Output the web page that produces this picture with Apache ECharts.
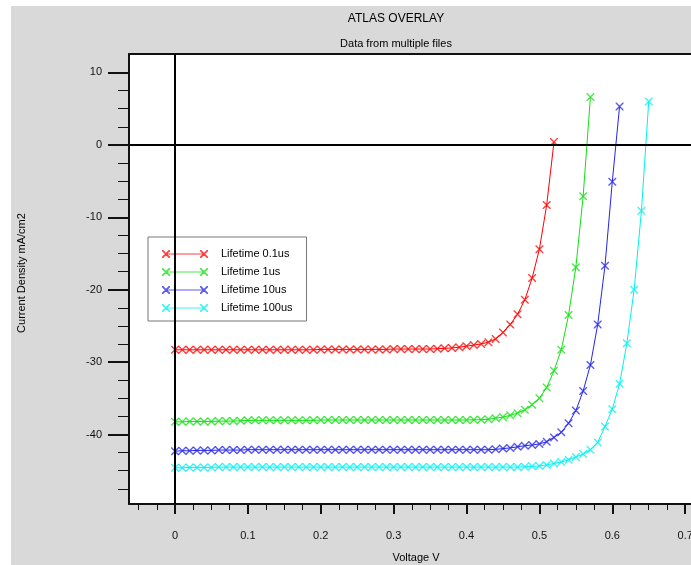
<!DOCTYPE html>
<html>
<head>
<meta charset="utf-8">
<script src="https://cdn.jsdelivr.net/npm/echarts@6/dist/echarts.min.js"></script>
<style>
html,body{margin:0;padding:0;background:#fff;}
#chart{width:691px;height:565px;}
</style>
</head>
<body>
<div id="chart"></div>
<script>
// ---- data ----
var seriesNames = ['Lifetime 0.1us', 'Lifetime 1us', 'Lifetime 10us', 'Lifetime 100us'];
var seriesColors = ['#ff0000', '#11e011', '#2424ea', '#00f0f0'];

var voltage = [0.00,0.01,0.02,0.03,0.04,0.05,0.06,0.07,0.08,0.09,
  0.10,0.11,0.12,0.13,0.14,0.15,0.16,0.17,0.18,0.19,
  0.20,0.21,0.22,0.23,0.24,0.25,0.26,0.27,0.28,0.29,
  0.30,0.31,0.32,0.33,0.34,0.35,0.36,0.37,0.38,0.39,
  0.40,0.41,0.42,0.43,0.44,0.45,0.46,0.47,0.48,0.49,
  0.50,0.51,0.52,0.53,0.54,0.55,0.56,0.57,0.58,0.59,
  0.60,0.61,0.62,0.63,0.64,0.65];

var current01us = [-28.3,-28.3,-28.3,-28.3,-28.3,-28.3,-28.3,-28.3,-28.3,-28.3,
  -28.3,-28.3,-28.3,-28.3,-28.3,-28.3,-28.3,-28.3,-28.3,-28.3,
  -28.25,-28.25,-28.25,-28.25,-28.25,-28.25,-28.25,-28.25,-28.25,-28.25,
  -28.2,-28.2,-28.2,-28.2,-28.2,-28.2,-28.15,-28.1,-28.05,-27.95,
  -27.8,-27.65,-27.5,-27.25,-26.8,-25.9,-24.8,-23.4,-21.4,-18.4,
  -14.4,-8.3,0.4];

var current1us = [-38.25,-38.25,-38.2,-38.2,-38.2,-38.2,-38.15,-38.15,-38.15,-38.1,
  -38.05,-38.05,-38.05,-38.05,-38.05,-38.05,-38.05,-38.05,-38.05,-38.05,
  -38.0,-38.0,-38.0,-38.0,-38.0,-38.0,-38.0,-38.0,-38.0,-38.0,
  -38.0,-38.0,-38.0,-38.0,-38.0,-38.0,-38.0,-38.0,-38.0,-38.0,
  -38.0,-37.97,-37.95,-37.9,-37.75,-37.6,-37.35,-37.05,-36.6,-35.9,
  -35.0,-33.5,-31.2,-28.3,-23.5,-16.9,-7.1,6.6];

var current10us = [-42.3,-42.25,-42.25,-42.2,-42.2,-42.2,-42.15,-42.15,-42.15,-42.15,
  -42.1,-42.1,-42.1,-42.1,-42.1,-42.1,-42.1,-42.1,-42.1,-42.1,
  -42.1,-42.1,-42.1,-42.1,-42.1,-42.1,-42.1,-42.1,-42.1,-42.1,
  -42.1,-42.1,-42.1,-42.1,-42.1,-42.1,-42.1,-42.1,-42.1,-42.1,
  -42.1,-42.1,-42.1,-42.1,-42.05,-41.95,-41.85,-41.7,-41.55,-41.45,
  -41.3,-41.0,-40.4,-39.7,-38.45,-36.7,-34.0,-30.4,-24.8,-16.7,
  -5.1,5.3];

var current100us = [-44.6,-44.6,-44.55,-44.55,-44.55,-44.55,-44.5,-44.5,-44.5,-44.5,
  -44.5,-44.5,-44.5,-44.5,-44.5,-44.5,-44.5,-44.5,-44.5,-44.5,
  -44.5,-44.5,-44.5,-44.5,-44.5,-44.5,-44.5,-44.5,-44.5,-44.5,
  -44.5,-44.5,-44.5,-44.5,-44.5,-44.5,-44.5,-44.5,-44.5,-44.5,
  -44.5,-44.5,-44.5,-44.5,-44.5,-44.5,-44.5,-44.5,-44.45,-44.4,
  -44.35,-44.2,-44.0,-43.8,-43.5,-43.1,-42.7,-42.1,-41.1,-38.9,
  -36.5,-33.0,-27.4,-20.0,-9.1,6.0];

var xLabelValues = [0,0.1,0.2,0.3,0.4,0.5,0.6,0.7];
var xMinorTicks = [-0.05,-0.025,0.025,0.05,0.075,0.125,0.15,0.175,0.225,0.25,0.275,0.325,0.35,0.375,0.425,0.45,0.475,0.525,0.55,0.575,0.625,0.65,0.675,0.7];
var yLabelValues = [10,0,-10,-20,-30,-40];
var yMinorTicks = [7.5,5,2.5,-2.5,-5,-7.5,-12.5,-15,-17.5,-22.5,-25,-27.5,-32.5,-35,-37.5,-42.5,-45,-47.5];

var titleText = 'ATLAS OVERLAY';
var subtitleText = 'Data from multiple files';
var xName = 'Voltage V';
var yName = 'Current Density mA/cm2';

// ---- chart ----
var X_MIN = -0.0631, X_MAX = 0.708;
var Y_MIN = -49.6, Y_MAX = 12.55;
var FONT = '"Liberation Sans", Arial, sans-serif';
var xSym = 'path://M0,0L1,0L8,7L8,8L7,8L0,1Z M8,0L8,1L1,8L0,8L0,7L7,0Z';
var legendIcon = 'path://M0,0L1.2,0L8,6.8L8,8L6.8,8L0,1.2Z M8,0L8,1.2L1.2,8L0,8L0,6.8L6.8,0Z M4,3.5L42,3.5L42,4.5L4,4.5Z M38,0L39.2,0L46,6.8L46,8L44.8,8L38,1.2Z M46,0L46,1.2L39.2,8L38,8L38,6.8L44.8,0Z';

function pairs(v, j) {
  var out = [];
  for (var i = 0; i < j.length; i++) out.push([v[i], j[i]]);
  return out;
}
var currents = [current01us, current1us, current10us, current100us];

var series = currents.map(function (c, i) {
  return {
    name: seriesNames[i],
    type: 'line',
    data: pairs(voltage, c),
    symbol: xSym,
    symbolSize: [8, 8],
    showAllSymbol: true,
    lineStyle: { color: seriesColors[i], width: 1 },
    itemStyle: { color: seriesColors[i], opacity: 0.75 },
    emphasis: { disabled: true },
    animation: false,
    z: 3
  };
});
series.push({
  type: 'line', data: [], silent: true, animation: false,
  markLine: {
    silent: true, symbol: 'none', animation: false,
    label: { show: false },
    lineStyle: { color: '#000', width: 2, type: 'solid' },
    data: [{ xAxis: 0 }, { yAxis: 0 }]
  },
  z: 2
});

var chart = echarts.init(document.getElementById('chart'), null, { renderer: 'canvas' });
chart.setOption({
  backgroundColor: '#d9d9d9',
  animation: false,
  textStyle: { fontFamily: FONT },
  title: [
    { text: titleText, left: 391, top: 8, textAlign: 'center',
      textStyle: { fontSize: 12, fontWeight: 'normal', color: '#000', fontFamily: FONT } },
    { text: subtitleText, left: 391, top: 33, textAlign: 'center',
      textStyle: { fontSize: 11, fontWeight: 'normal', color: '#000', fontFamily: FONT } }
  ],
  graphic: [
    { type: 'rect', left: 0, top: 0, shape: { width: 11, height: 565 }, style: { fill: '#ffffff' }, silent: true },
    { type: 'rect', left: 0, top: 0, shape: { width: 691, height: 6 }, style: { fill: '#ffffff' }, silent: true },
    { type: 'text', x: 22, y: 273, rotation: Math.PI / 2, silent: true,
      style: { text: yName, fill: '#000', font: '11px ' + FONT, textAlign: 'center', textVerticalAlign: 'middle' } },
    { type: 'text', x: 416, y: 558, silent: true,
      style: { text: xName, fill: '#000', font: '11px ' + FONT, textAlign: 'center', textVerticalAlign: 'middle' } }
  ],
  legend: {
    show: true,
    orient: 'vertical',
    left: 148, top: 237,
    padding: [10, 14, 6, 14],
    itemGap: 4,
    itemWidth: 46, itemHeight: 8,
    icon: legendIcon,
    backgroundColor: '#ffffff',
    borderColor: '#777777',
    borderWidth: 1,
    borderRadius: 0,
    selectedMode: false,
    textStyle: { fontSize: 11, color: '#000', fontFamily: FONT, padding: [0, 0, 0, 8], lineHeight: 14 },
    data: seriesNames
  },
  grid: {
    left: 129, top: 54, right: 0, bottom: 61,
    outerBoundsMode: 'none',
    containLabel: false,
    show: true, backgroundColor: '#ffffff', borderWidth: 0
  },
  xAxis: [
    { type: 'value', min: X_MIN, max: X_MAX, position: 'bottom',
      axisLine: { show: true, onZero: false, lineStyle: { color: '#111', width: 2 } },
      axisTick: { show: true, customValues: xLabelValues, length: 10, lineStyle: { color: '#111', width: 2 } },
      axisLabel: { show: true, customValues: xLabelValues, margin: 26, fontSize: 11, color: '#111', fontFamily: FONT,
        formatter: function (v) { return String(Math.round(v * 10) / 10); } },
      splitLine: { show: false } },
    { type: 'value', min: X_MIN, max: X_MAX, position: 'bottom',
      axisLine: { show: false, onZero: false },
      axisTick: { show: true, customValues: xMinorTicks, length: 6, lineStyle: { color: '#111', width: 1 } },
      axisLabel: { show: false }, splitLine: { show: false } },
    { type: 'value', min: X_MIN, max: X_MAX, position: 'top',
      axisLine: { show: true, onZero: false, lineStyle: { color: '#111', width: 2 } },
      axisTick: { show: false }, axisLabel: { show: false }, splitLine: { show: false } }
  ],
  yAxis: [
    { type: 'value', min: Y_MIN, max: Y_MAX, position: 'left',
      axisLine: { show: true, onZero: false, lineStyle: { color: '#111', width: 2 } },
      axisTick: { show: true, customValues: yLabelValues, length: 21, lineStyle: { color: '#111', width: 2 } },
      axisLabel: { show: true, customValues: yLabelValues, margin: 27, fontSize: 11, color: '#111', fontFamily: FONT },
      splitLine: { show: false } },
    { type: 'value', min: Y_MIN, max: Y_MAX, position: 'left',
      axisLine: { show: false, onZero: false },
      axisTick: { show: true, customValues: yMinorTicks, length: 11, lineStyle: { color: '#111', width: 1 } },
      axisLabel: { show: false }, splitLine: { show: false } }
  ],
  series: series
});
</script>
</body>
</html>
